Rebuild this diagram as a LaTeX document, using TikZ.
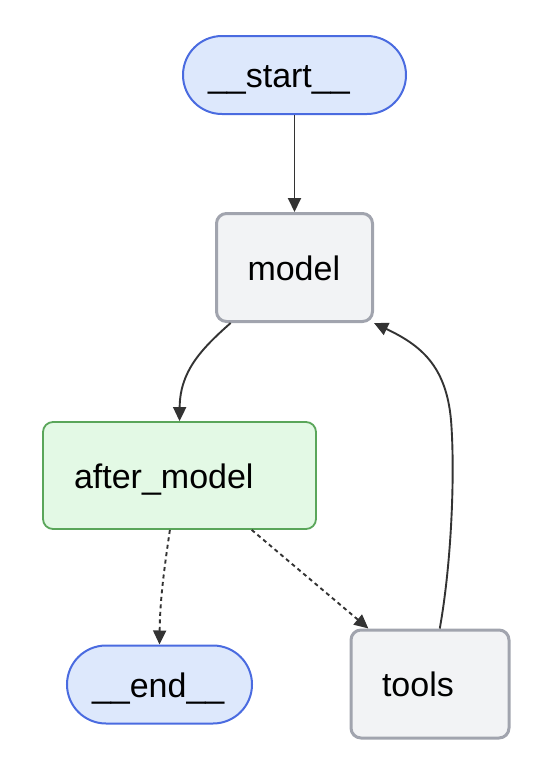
\documentclass[tikz,border=0pt]{standalone}
\usepackage{fontspec}
\setmainfont{Liberation Sans}
\usetikzlibrary{arrows.meta}

\definecolor{termfill}{HTML}{DDE8FC}
\definecolor{termline}{HTML}{4A6BE0}
\definecolor{stepfill}{HTML}{F2F3F5}
\definecolor{stepline}{HTML}{A1A4AE}
\definecolor{hookfill}{HTML}{E3F9E5}
\definecolor{hookline}{HTML}{5AA65A}
\definecolor{edgecol}{HTML}{333333}

\begin{document}
\begin{tikzpicture}[x=1pt, y=-1pt,
	every node/.style={font=\fontsize{34}{40}\selectfont, align=left, text height=25pt, text depth=0pt, inner ysep=0pt},
	terminal/.style={draw=termline, fill=termfill, line width=2pt, rounded corners=39pt, minimum height=78pt, inner xsep=25pt},
	stepbox/.style={draw=stepline, fill=stepfill, line width=3pt, rounded corners=10pt, minimum height=108pt, inner xsep=31pt},
	hookbox/.style={draw=hookline, fill=hookfill, line width=1.8pt, rounded corners=10pt, minimum height=107pt, inner xsep=31pt},
	edge/.style={draw=edgecol, line width=1.9pt, -{Triangle[length=14pt, width=13pt]}},
	condedge/.style={edge, dash pattern=on 4pt off 3.5pt}]
	\useasboundingbox (0,0) rectangle (558,772);
	% nodes
	\node[terminal, text width=173pt] (start) at (294.5,75) {\_\_start\_\_};
	\node[stepbox, text width=94pt] (model) at (294.5,267.5) {model};
	\node[hookbox, text width=211pt] (aftermodel) at (179.5,475.5) {after\_model};
	\node[terminal, text width=135pt] (endnode) at (159.5,684.5) {\_\_end\_\_};
	\node[stepbox, text width=96pt] (tools) at (430,684) {tools};
	% edges
	\draw[edge] (start) -- (model);
	\draw[edge] (model.221) .. controls (200,350) and (180,372) .. (aftermodel.north);
	\draw[edge] (tools.80) .. controls (452,560) and (455,470) .. (451,420)
		.. controls (446,365) and (420,345) .. (model.south east);
	\draw[condedge] (aftermodel.260) .. controls (164,570) and (160,600) .. (endnode.north);
	\draw[condedge] (aftermodel.323) -- (tools.138);
\end{tikzpicture}
\end{document}
